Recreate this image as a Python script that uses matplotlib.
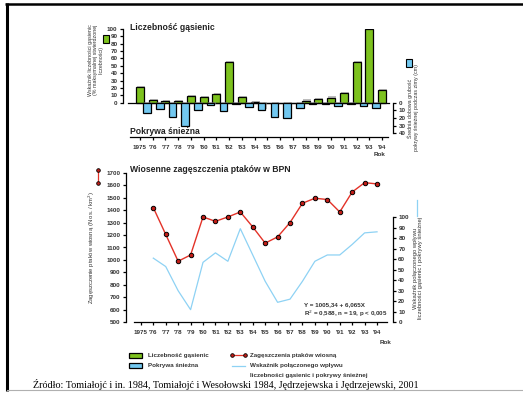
import matplotlib
matplotlib.use("Agg")
import matplotlib.pyplot as plt
import matplotlib.patheffects as pe
from matplotlib.patches import Rectangle

plt.rcParams['font.family'] = ['Liberation Sans', 'DejaVu Sans']

# caterpillar abundance, % of maximum (one value per spring)
years = list(range(1975, 1995))
caterpillars = [21, 4, 2, 2, 9, 8, 12, 55, 8, 1, 0, 0, 0, 3, 5, 7, 13, 55, 100, 17]

# mean daily snow depth in winter (cm), winters 1975/76 .. 1993/94
snow_years = list(range(1975, 1994))
snow_depth = [13, 8.5, 18.5, 30, 10, 3.5, 11, 2, 5, 10, 19, 19.5, 7.5, 2, 2, 4.5, 2, 4.5, 7.5]

# spring bird density (ind. / km2) and the combined index
bird_years = list(range(1976, 1995))
bird_density = [1420, 1205, 990, 1040, 1345, 1310, 1345, 1385, 1265, 1135,
                1185, 1300, 1455, 1495, 1485, 1385, 1545, 1620, 1610]
combined_index = [61, 53, 30, 12, 57, 66, 58, 89, 64, 39,
                  19, 22, 39, 58, 64, 64, 74, 85, 86]

year_labels = ['1975'] + ["'%02d" % (y % 100) for y in years[1:]]

GREEN = '#7dc21e'
BLUE = '#72c8f0'
RED = '#e33228'
LINEBLUE = '#8ed2f4'
TICKC = '#333333'

W, H = 523, 393
fig = plt.figure(figsize=(W / 100, H / 100), dpi=100)


def rect(x0, y0, x1, y1):
    return [x0 / W, 1 - y1 / H, (x1 - x0) / W, (y1 - y0) / H]


def style_ticks(ax, axis='both'):
    ax.tick_params(axis=axis, labelsize=4.5, length=2.5, width=0.9, pad=1.5,
                   colors='black', labelcolor=TICKC)
    for lab in ax.get_xticklabels() + ax.get_yticklabels():
        lab.set_fontweight('bold')


shadow = [pe.SimplePatchShadow(offset=(0.8, 0.8), shadow_rgbFace='#888888', alpha=0.55),
          pe.Normal()]

# --- upper panel: caterpillars (up) and snow (down) ---
ax1 = fig.add_axes(rect(123, 29, 393, 137))
ax1.set_xlim(1973.67, 1994.86)
ax1.set_ylim(-46.5, 100)
ax1.patch.set_visible(False)
bars = ax1.bar(years, caterpillars, width=0.62, color=GREEN, edgecolor='black',
               linewidth=0.9, zorder=3)
for b in bars:
    b.set_path_effects(shadow)
ax1.axhline(0, xmin=0.02, xmax=0.985, color='black', lw=0.9, zorder=4)
for s in ['top', 'right']:
    ax1.spines[s].set_visible(False)
ax1.spines['left'].set_bounds(0, 100)
ax1.spines['bottom'].set_bounds(1974.22, 1994.47)
for s in ['left', 'bottom']:
    ax1.spines[s].set_linewidth(0.9)
ax1.set_yticks(range(0, 101, 10))
ax1.set_xticks(years)
ax1.set_xticklabels(year_labels)
style_ticks(ax1)
ax1.tick_params(axis='x', pad=3)

ax1r = ax1.twinx()
ax1r.set_ylim(45.1, -97)
ax1r.bar([y + 0.55 for y in snow_years], snow_depth, width=0.6, color=BLUE,
         edgecolor='black', linewidth=0.9, zorder=2)
for b in ax1r.patches:
    b.set_path_effects(shadow)
for s in ['top', 'left', 'bottom']:
    ax1r.spines[s].set_visible(False)
ax1r.spines['right'].set_bounds(0, 40)
ax1r.spines['right'].set_linewidth(0.9)
ax1r.set_yticks(range(0, 41, 10))
style_ticks(ax1r, 'y')

# --- lower panel: bird density and combined index ---
ax2 = fig.add_axes(rect(125.7, 172.7, 392.7, 322.3))
ax2.set_xlim(1973.78, 1995.26)
ax2.set_ylim(500, 1700)
ax2.patch.set_visible(False)
ax2.plot(bird_years, bird_density, color=RED, lw=1.0, marker='o', markersize=3.2,
         markerfacecolor='#c21d17', markeredgecolor='black', markeredgewidth=0.7, zorder=5)
for s in ['top', 'right']:
    ax2.spines[s].set_visible(False)
ax2.spines['bottom'].set_bounds(1974.48, 1994.8)
for s in ['left', 'bottom']:
    ax2.spines[s].set_linewidth(0.9)
ax2.set_yticks(range(500, 1701, 100))
ax2.set_xticks(years)
ax2.set_xticklabels(year_labels)
style_ticks(ax2)
ax2.tick_params(axis='x', pad=3)

ax2r = ax2.twinx()
ax2r.set_ylim(0, 142.2)
ax2r.plot(bird_years, combined_index, color=LINEBLUE, lw=0.9, zorder=4)
for s in ['top', 'left', 'bottom']:
    ax2r.spines[s].set_visible(False)
ax2r.spines['right'].set_bounds(0, 100)
ax2r.spines['right'].set_linewidth(0.9)
ax2r.set_yticks(range(0, 101, 10))
style_ticks(ax2r, 'y')

# --- overlay in pixel coordinates for titles, labels, legend and frame ---
ov = fig.add_axes([0, 0, 1, 1], zorder=10)
ov.set_xlim(0, W)
ov.set_ylim(H, 0)
ov.axis('off')

ov.plot([6.5, 6.5], [3, 391], color='black', lw=2.2, solid_capstyle='butt')
ov.plot([5, W], [4, 4], color='black', lw=1.8, solid_capstyle='butt')
ov.plot([7, W], [390, 390], color='#b0b0b0', lw=0.8)

title_kw = dict(fontsize=6.2, fontweight='bold', color='#222222', va='center', ha='left')
ov.text(130, 27, 'Liczebność gąsienic', **title_kw)
ov.text(130, 131, 'Pokrywa śnieżna', **title_kw)
ov.text(130, 170, 'Wiosenne zagęszczenia ptaków w BPN', **title_kw)

lab_kw = dict(fontsize=4.5, fontweight='bold', color=TICKC)
ov.text(380, 155, 'Rok', ha='center', va='center', **lab_kw)
ov.text(386, 343, 'Rok', ha='center', va='center', **lab_kw)

side_kw = dict(fontsize=3.8, color='#333333', rotation=90, ha='center', va='center',
               multialignment='center', linespacing=1.1)
ov.text(96, 60, 'Wskaźnik liczebności gąsienic\n(% maksymalnej stwierdzonej\nliczebności)', **side_kw)
ov.add_patch(Rectangle((103, 35), 6, 8, facecolor=GREEN, edgecolor='black', lw=0.8))

ov.text(413, 108, 'Średnia dobowa grubość\npokrywy śnieżnej podczas zimy (cm)', **side_kw)
ov.add_patch(Rectangle((406, 59), 6, 8, facecolor=BLUE, edgecolor='black', lw=0.8))

ov.text(92, 248, 'Zagęszczenie ptaków wiosną (N os. / km$^2$)',
        **dict(side_kw, fontsize=4.2))
ov.plot([98, 98], [170, 183], color=RED, lw=0.9, marker='o', markersize=2.6,
        markerfacecolor='#c21d17', markeredgecolor='black', markeredgewidth=0.6)

ov.text(418, 268, 'Wskaźnik połączonego wpływu\nliczebności gąsienic i pokrywy śnieżnej',
        **dict(side_kw, fontsize=4.2))
ov.plot([416.7, 416.7], [200, 216], color=LINEBLUE, lw=0.9)

eq_kw = dict(fontsize=4.5, fontweight='bold', color='#333333', ha='left', va='center')
ov.text(304, 305, 'Y = 1005,34 + 6,065X', **eq_kw)
ov.text(304, 314, 'R$^2$ = 0,588, n = 19, p < 0,005', **eq_kw)

# legend
leg_kw = dict(fontsize=4.5, fontweight='bold', color='#333333', ha='left', va='center')
ov.add_patch(Rectangle((129, 352.5), 13, 5, facecolor=GREEN, edgecolor='black', lw=0.9))
ov.text(148, 355, 'Liczebność gąsienic', **leg_kw)
ov.add_patch(Rectangle((129, 362.5), 13, 5, facecolor=BLUE, edgecolor='black', lw=0.9))
ov.text(148, 365, 'Pokrywa śnieżna', **leg_kw)
ov.plot([232, 245], [355, 355], color=RED, lw=0.9, marker='o', markersize=2.6,
        markerfacecolor='#c21d17', markeredgecolor='black', markeredgewidth=0.6)
ov.text(250, 355, 'Zagęszczenia ptaków wiosną', **leg_kw)
ov.plot([232, 245], [365.5, 365.5], color=LINEBLUE, lw=0.9)
ov.text(250, 365.5, 'Wskaźnik połączonego wpływu', **leg_kw)
ov.text(250, 375, 'liczebności gąsienic i pokrywy śnieżnej', **leg_kw)

ov.text(33, 384, 'Źródło: Tomiałojć i in. 1984, Tomiałojć i Wesołowski 1984, '
        'Jędrzejewska i Jędrzejewski, 2001',
        fontsize=7.3, family=['Liberation Serif', 'DejaVu Serif'], color='black',
        ha='left', va='center')

fig.savefig('out.png', dpi=100)
